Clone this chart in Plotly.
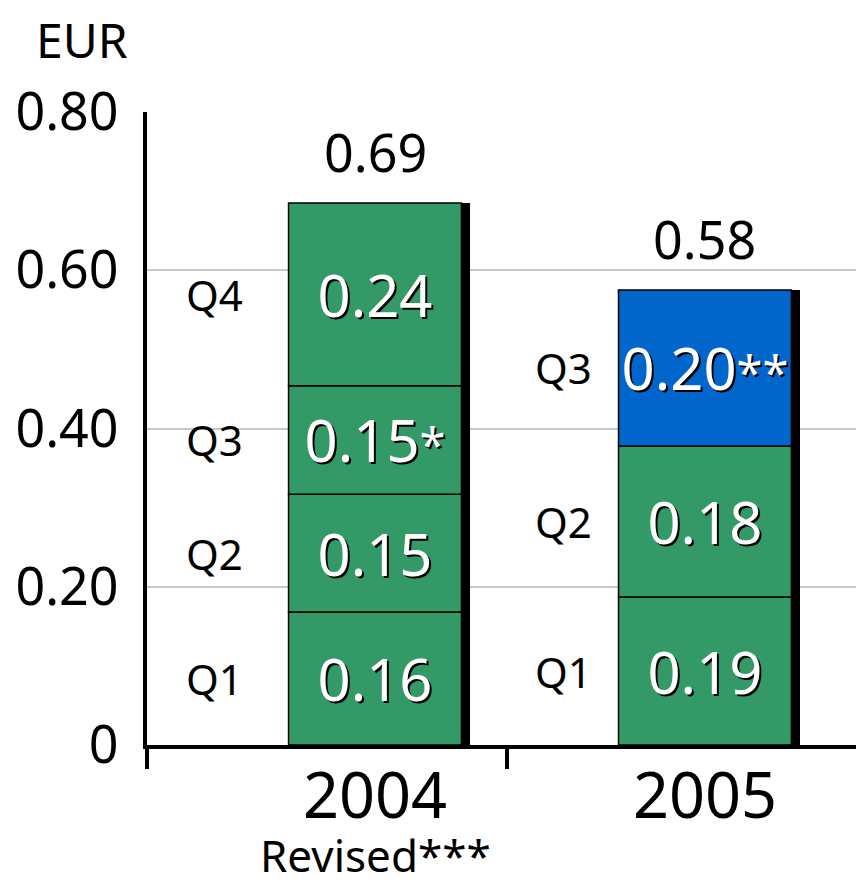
import numpy as np
import plotly.graph_objects as go

# data
years = ["2004", "2005"]
quarters_2004 = ["Q1", "Q2", "Q3", "Q4"]
eps_2004 = [0.168, 0.149, 0.137, 0.231]
labels_2004 = ["0.16", "0.15", "0.15*", "0.24"]
quarters_2005 = ["Q1", "Q2", "Q3"]
eps_2005 = [0.187, 0.191, 0.197]
labels_2005 = ["0.19", "0.18", "0.20**"]
total_labels = ["0.69", "0.58"]
year_notes = ["Revised***", ""]
y_ticks = [0, 0.2, 0.4, 0.6, 0.8]
y_ticktext = ["0", "0.20", "0.40", "0.60", "0.80"]

# style
GREEN = "#339966"
BLUE = "#0066CC"
GRID = "#C8C8C8"
FONT = "Noto Sans"
BAR_W = 0.524
X_RANGE = [-0.691, 1.482]
SHADOW_DX = 0.026
TEXT_SHADOW = "2px 2px 0px #000"
PAGE_PAD = 8  # default body margin of the html page


def small_stars(label):
    # footnote asterisks are set a bit smaller than the figure itself
    num = label.rstrip("*")
    stars = label[len(num):]
    if not stars:
        return num
    return num + "<span style='font-size:47px'>" + stars + "</span>"


series = [
    (quarters_2004, eps_2004, labels_2004, [GREEN] * 4, 44),
    (quarters_2005, eps_2005, labels_2005, [GREEN, GREEN, BLUE], 25),
]
totals = [sum(s[1]) for s in series]

fig = go.Figure()

# black drop shadow on the right side of each column
fig.add_trace(go.Bar(
    x=list(range(len(years))), y=totals, base=[0] * len(years),
    width=BAR_W, offset=-BAR_W / 2 + SHADOW_DX,
    marker=dict(color="black", line_width=0), hoverinfo="skip",
))

annotations = []
for i, (qs, vals, labels, colors, gap) in enumerate(series):
    bases = np.concatenate([[0], np.cumsum(vals)[:-1]])
    fig.add_trace(go.Bar(
        x=[i] * len(vals), y=vals, base=bases,
        width=BAR_W, offset=-BAR_W / 2,
        marker=dict(color=colors, line=dict(color="black", width=1.5)),
        text=[small_stars(t) for t in labels],
        textposition="inside", insidetextanchor="middle",
        textangle=0, constraintext="none",
        textfont=dict(family=FONT, size=58, color="white", shadow=TEXT_SHADOW),
    ))
    for q, b, v in zip(qs, bases, vals):
        annotations.append(dict(
            x=i - BAR_W / 2, y=b + v / 2, text=q, showarrow=False,
            xanchor="right", yanchor="middle", xshift=-gap,
            font=dict(family=FONT, size=42, color="black"),
        ))
    annotations.append(dict(
        x=i, y=totals[i], text=total_labels[i], showarrow=False,
        yanchor="bottom", yshift=14,
        font=dict(family=FONT, size=52, color="black"),
    ))
    # year label and note under the axis
    annotations.append(dict(
        x=i, y=0, yref="paper", text=years[i], showarrow=False,
        yanchor="middle", yshift=-48,
        font=dict(family=FONT, size=63, color="black"),
    ))
    if year_notes[i]:
        annotations.append(dict(
            x=i, y=0, yref="paper", text=year_notes[i], showarrow=False,
            yanchor="middle", yshift=-110, borderpad=0,
            font=dict(family=FONT, size=44, color="black"),
        ))

annotations.append(dict(
    x=0, xref="paper", y=1, yref="paper", text="EUR", showarrow=False,
    xanchor="center", yanchor="middle", xshift=-65, yshift=73, borderpad=0,
    font=dict(family=FONT, size=48, color="black"),
))

fig.update_layout(
    width=864 - PAGE_PAD, height=885 - PAGE_PAD,
    margin=dict(l=147 - PAGE_PAD, r=0, t=112 - PAGE_PAD, b=140),
    barmode="overlay", showlegend=False,
    plot_bgcolor="white", paper_bgcolor="white",
    font=dict(family=FONT, color="black"),
    annotations=annotations,
)
fig.update_xaxes(
    range=X_RANGE, showticklabels=False, ticks="", automargin=False,
    showline=True, linecolor="black", linewidth=4, showgrid=False,
    zeroline=False,
    minor=dict(tickvals=[X_RANGE[0], 0.4], ticks="outside", ticklen=20,
               tickwidth=4, tickcolor="black", showgrid=False),
)
fig.update_yaxes(
    range=[0, 0.8], tickvals=y_ticks, ticktext=y_ticktext, automargin=False,
    tickfont=dict(size=52, color="black"), ticks="",
    showline=True, linecolor="black", linewidth=4,
    showgrid=True, gridcolor=GRID, gridwidth=1.5, zeroline=False,
    ticklabelstandoff=14,
)

fig.write_html("out.html")
